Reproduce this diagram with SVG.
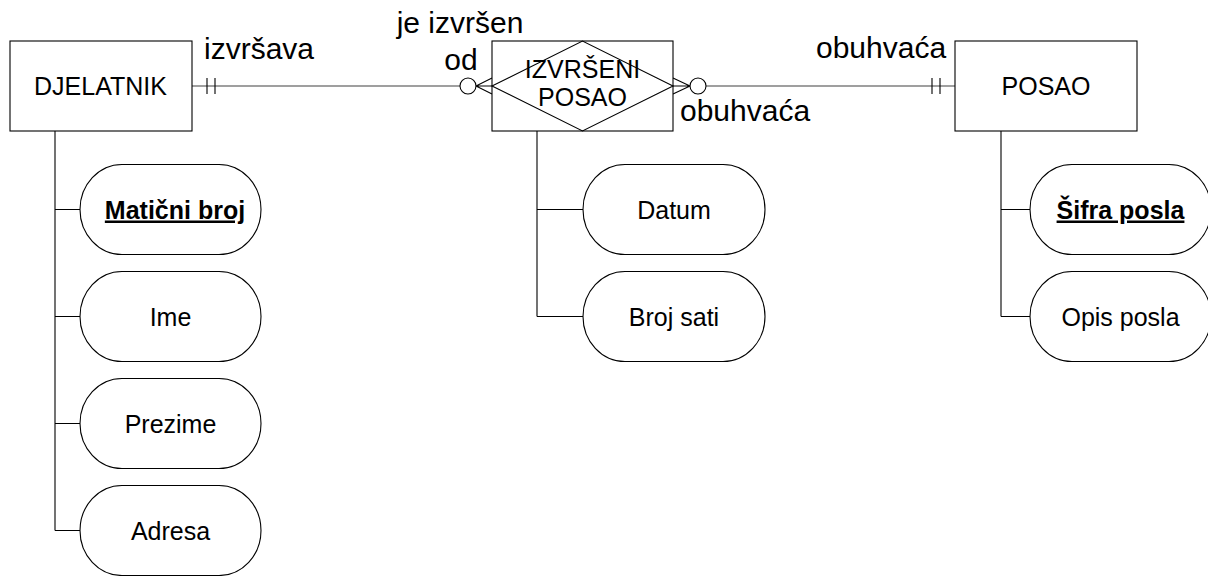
<svg xmlns="http://www.w3.org/2000/svg" width="1208" height="576" viewBox="0 0 1208 576">
<style>
text{font-family:"Liberation Sans",Arial,sans-serif;fill:#000}
.ent{fill:#fff;stroke:#000;stroke-width:1.1}
.attr{fill:#fff;stroke:#000;stroke-width:1.1}
.et{font-size:25px;text-anchor:middle}
.lb{font-size:30px}
.rel{fill:none;stroke:#808080;stroke-width:1.6}
.mk{fill:none;stroke:#000;stroke-width:1.1}
.tree{fill:none;stroke:#000;stroke-width:1.1}
.key{font-weight:bold;text-decoration:underline}
</style>
<g id="connectors">
<path class="rel" d="M192,86H460M706,86H955"/>
<path class="mk" d="M207,78V94M215,78V94M932,78V94M940,78V94"/>
<circle class="mk" cx="468" cy="86" r="8" fill="#fff"/>
<path class="mk" d="M476,86L492,78M476,86H492M476,86L492,94"/>
<circle class="mk" cx="698" cy="86" r="8" fill="#fff"/>
<path class="mk" d="M690,86L673,78M690,86H673M690,86L673,94"/>
<path class="tree" d="M55,131V530.5M55,209.5H80M55,316.5H80M55,423.5H80M55,530.5H80"/>
<path class="tree" d="M537,131V316.5M537,209.5H583M537,316.5H583"/>
<path class="tree" d="M1001,131V316.5M1001,209.5H1030M1001,316.5H1030"/>
<text class="lb" x="204" y="59">izvršava</text>
<text class="lb" x="460" y="33" text-anchor="middle">je izvršen</text>
<text class="lb" x="461" y="70" text-anchor="middle">od</text>
<text class="lb" x="680" y="121">obuhvaća</text>
<text class="lb" x="816" y="58">obuhvaća</text>
</g>
<g id="djelatnik">
<rect class="ent" x="10" y="41" width="182" height="90"/>
<text class="et" x="100.5" y="95">DJELATNIK</text>
</g>
<g id="izvrseni-posao">
<rect class="ent" x="492" y="41" width="181" height="90"/>
<path class="mk" d="M492,86L582.5,41L673,86L582.5,131Z"/>
<text class="et" x="582.5" y="78">IZVRŠENI</text>
<text class="et" x="582.5" y="106">POSAO</text>
</g>
<g id="posao">
<rect class="ent" x="955" y="41" width="182" height="90"/>
<text class="et" x="1046" y="95">POSAO</text>
</g>
<g id="maticni-broj">
<rect class="attr" x="80" y="164.5" width="181" height="90" rx="42" ry="45"/>
<text class="et key" x="175" y="218.5">Matični broj</text>
</g>
<g id="ime">
<rect class="attr" x="80" y="271.5" width="181" height="90" rx="42" ry="45"/>
<text class="et" x="170.5" y="325.5">Ime</text>
</g>
<g id="prezime">
<rect class="attr" x="80" y="378.5" width="181" height="90" rx="42" ry="45"/>
<text class="et" x="170.5" y="432.5">Prezime</text>
</g>
<g id="adresa">
<rect class="attr" x="80" y="485.5" width="181" height="90" rx="42" ry="45"/>
<text class="et" x="170.5" y="539.5">Adresa</text>
</g>
<g id="datum">
<rect class="attr" x="583" y="164.5" width="182" height="90" rx="42" ry="45"/>
<text class="et" x="674" y="218.5">Datum</text>
</g>
<g id="broj-sati">
<rect class="attr" x="583" y="271.5" width="182" height="90" rx="42" ry="45"/>
<text class="et" x="674" y="325.5">Broj sati</text>
</g>
<g id="sifra-posla">
<rect class="attr" x="1030" y="164.5" width="181" height="90" rx="42" ry="45"/>
<text class="et key" x="1120.5" y="218.5">Šifra posla</text>
</g>
<g id="opis-posla">
<rect class="attr" x="1030" y="271.5" width="181" height="90" rx="42" ry="45"/>
<text class="et" x="1120.5" y="325.5">Opis posla</text>
</g>
</svg>
